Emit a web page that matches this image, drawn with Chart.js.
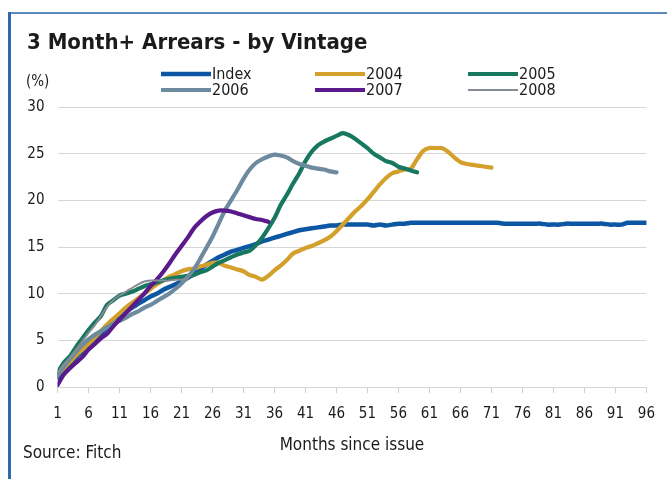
<!DOCTYPE html>
<html><head><meta charset="utf-8">
<script src="https://cdn.jsdelivr.net/npm/chart.js@4/dist/chart.umd.min.js"></script>
<style>html,body{margin:0;padding:0;background:#fff;}#wrap{width:667px;height:479px;}</style>
</head><body><div id="wrap"><canvas id="c" width="667" height="479"></canvas></div>
<script>
const chartTitle = "3 Month+ Arrears - by Vintage";
const yUnit = "(%)";
const xTitle = "Months since issue";
const sourceNote = "Source: Fitch";
const seriesNames = ["Index", "2004", "2005", "2006", "2007", "2008"];
const xTickLabels = [1, 6, 11, 16, 21, 26, 31, 36, 41, 46, 51, 56, 61, 66, 71, 76, 81, 86, 91, 96];
const yTickLabels = [0, 5, 10, 15, 20, 25, 30];

const indexVals = [1.0,1.8,2.5,3.2,3.8,4.4,5.0,5.7,6.3,7.0,
 7.6,8.0,8.5,8.9,9.3,9.7,10.0,10.4,10.7,11.0,
 11.3,11.7,12.1,12.6,13.1,13.5,13.9,14.2,14.5,14.7,
 14.9,15.1,15.3,15.6,15.8,16.0,16.2,16.4,16.6,16.8,
 16.9,17.0,17.1,17.2,17.3,17.3,17.4,17.4,17.4,17.4,
 17.4,17.3,17.4,17.3,17.4,17.5,17.5,17.6,17.6,17.6,
 17.6,17.6,17.6,17.6,17.6,17.6,17.6,17.6,17.6,17.6,
 17.6,17.6,17.5,17.5,17.5,17.5,17.5,17.5,17.5,17.4,
 17.4,17.4,17.5,17.5,17.5,17.5,17.5,17.5,17.5,17.4,
 17.4,17.4,17.6,17.6,17.6,17.6];
const v2004 = [1.3,2.0,2.7,3.4,4.0,4.6,5.3,6.0,6.7,7.3,
 7.9,8.5,9.0,9.5,10.0,10.5,11.0,11.4,11.8,12.1,
 12.4,12.6,12.7,12.9,13.1,13.3,13.3,13.0,12.8,12.6,
 12.4,12.0,11.8,11.5,11.9,12.5,13.0,13.6,14.3,14.6,
 14.9,15.1,15.4,15.7,16.1,16.7,17.4,18.1,18.8,19.4,
 20.1,20.9,21.7,22.4,22.9,23.1,23.3,23.4,24.4,25.3,
 25.6,25.6,25.6,25.2,24.6,24.1,23.9,23.8,23.7,23.6,
 23.5];
const v2005 = [1.5,2.6,3.3,4.3,5.2,6.1,6.9,7.6,8.8,9.3,
 9.8,10.0,10.2,10.5,10.8,11.0,11.2,11.4,11.6,11.7,
 11.8,11.9,12.0,12.3,12.5,12.9,13.3,13.6,13.9,14.2,
 14.4,14.6,15.2,16.0,17.0,18.1,19.5,20.6,21.8,22.9,
 24.2,25.2,25.9,26.3,26.6,26.9,27.2,27.0,26.6,26.1,
 25.6,25.0,24.6,24.2,24.0,23.6,23.4,23.2,23.0];
const v2006 = [1.2,2.2,3.0,3.8,4.5,5.1,5.6,6.0,6.4,6.8,
 7.1,7.4,7.8,8.1,8.5,8.8,9.2,9.6,10.0,10.5,
 11.1,11.8,12.6,13.7,14.9,16.1,17.5,18.9,20.0,21.1,
 22.3,23.3,24.0,24.4,24.7,24.9,24.8,24.6,24.2,23.9,
 23.7,23.5,23.4,23.3,23.1,23.0];
const v2007 = [0.2,1.3,2.0,2.6,3.2,4.0,4.6,5.2,5.7,6.5,
 7.2,7.9,8.6,9.3,10.0,10.8,11.5,12.3,13.2,14.2,
 15.1,16.0,17.0,17.7,18.3,18.7,18.9,18.9,18.8,18.6,
 18.4,18.2,18.0,17.9,17.7];
const v2008 = [1.5,2.4,3.1,4.0,4.9,5.8,6.6,7.6,8.6,9.3,
 9.8,10.2,10.6,11.0,11.3,11.4,11.4,11.4,11.4,11.5,
 11.5,11.6];

const seriesValues = [indexVals, v2004, v2005, v2006, v2007, v2008];
const seriesColors = ["#0b57a3", "#d3a02b", "#17775f", "#6e8a9e", "#5a1a8c", "#868c94"];
const seriesWidths = [4.5, 4.2, 4.2, 4.2, 4.2, 2];

const FONT = "'DejaVu Sans Condensed', 'DejaVu Sans', sans-serif";
const TXT = "#1b1b1b";

const datasets = seriesNames.map((name, i) => ({
  label: name,
  data: seriesValues[i].map((v, k) => ({x: k + 1, y: v})),
  borderColor: seriesColors[i],
  backgroundColor: seriesColors[i],
  borderWidth: seriesWidths[i],
  pointRadius: 0,
  tension: 0.25,
  fill: false,
  order: seriesNames.length - i,
  borderCapStyle: 'round',
  borderJoinStyle: 'round'
}));

const decor = {
  id: 'decor',
  afterDraw(chart) {
    const ctx = chart.ctx;
    ctx.save();
    // frame
    ctx.strokeStyle = '#5b8bbd';
    ctx.lineWidth = 2;
    ctx.beginPath(); ctx.moveTo(8, 13); ctx.lineTo(667, 13); ctx.stroke();
    ctx.strokeStyle = '#2f6ba8';
    ctx.lineWidth = 3;
    ctx.beginPath(); ctx.moveTo(9.5, 12); ctx.lineTo(9.5, 479); ctx.stroke();
    // title
    ctx.fillStyle = TXT;
    ctx.textBaseline = 'alphabetic';
    ctx.textAlign = 'left';
    ctx.font = "bold 22px " + FONT;
    ctx.fillText(chartTitle, 27, 48.5);
    // unit
    ctx.font = "15px " + FONT;
    ctx.textBaseline = 'middle';
    ctx.fillText(yUnit, 26, 82);
    // source
    ctx.font = "17px " + FONT;
    ctx.fillText(sourceNote, 23, 454);
    // legend
    const colX = [161, 315, 468];
    const rowY = [74, 90];
    ctx.font = "16px " + FONT;
    chart.data.datasets.forEach((ds, i) => {
      const x = colX[i % 3], y = rowY[Math.floor(i / 3)];
      ctx.strokeStyle = ds.borderColor;
      ctx.lineWidth = ds.borderWidth;
      ctx.lineCap = 'butt';
      ctx.beginPath(); ctx.moveTo(x, y); ctx.lineTo(x + 50, y); ctx.stroke();
      ctx.fillStyle = TXT;
      ctx.fillText(ds.label, x + 51, y + 1);
    });
    ctx.restore();
  }
};

new Chart(document.getElementById('c'), {
  type: 'line',
  data: { datasets },
  plugins: [decor],
  options: {
    responsive: false,
    animation: false,
    devicePixelRatio: 1,
    layout: { padding: { top: 107, right: 19, bottom: 0, left: 0 } },
    plugins: { legend: { display: false }, tooltip: { enabled: false }, title: { display: false } },
    scales: {
      x: {
        type: 'linear', min: 1, max: 96,
        afterBuildTicks: (s) => { s.ticks = xTickLabels.map(v => ({ value: v })); },
        afterFit: (s) => { s.height = 92; },
        grid: { drawOnChartArea: false, drawTicks: true, tickLength: 6, color: '#cfcfcf', lineWidth: 1 },
        border: { display: false },
        ticks: { color: TXT, font: { family: FONT, size: 15 }, padding: 12, maxRotation: 0, autoSkip: false },
        title: { display: true, text: xTitle, color: TXT, font: { family: FONT, size: 17 }, padding: { top: 0, bottom: 23 } }
      },
      y: {
        min: 0, max: 30,
        afterBuildTicks: (s) => { s.ticks = yTickLabels.map(v => ({ value: v })); },
        afterFit: (s) => { s.width = 57.5; },
        grid: { drawTicks: false, color: '#d6d6d6', lineWidth: 1 },
        border: { display: false },
        ticks: { color: TXT, font: { family: FONT, size: 15 }, padding: 13 }
      }
    }
  }
});
</script></body></html>
